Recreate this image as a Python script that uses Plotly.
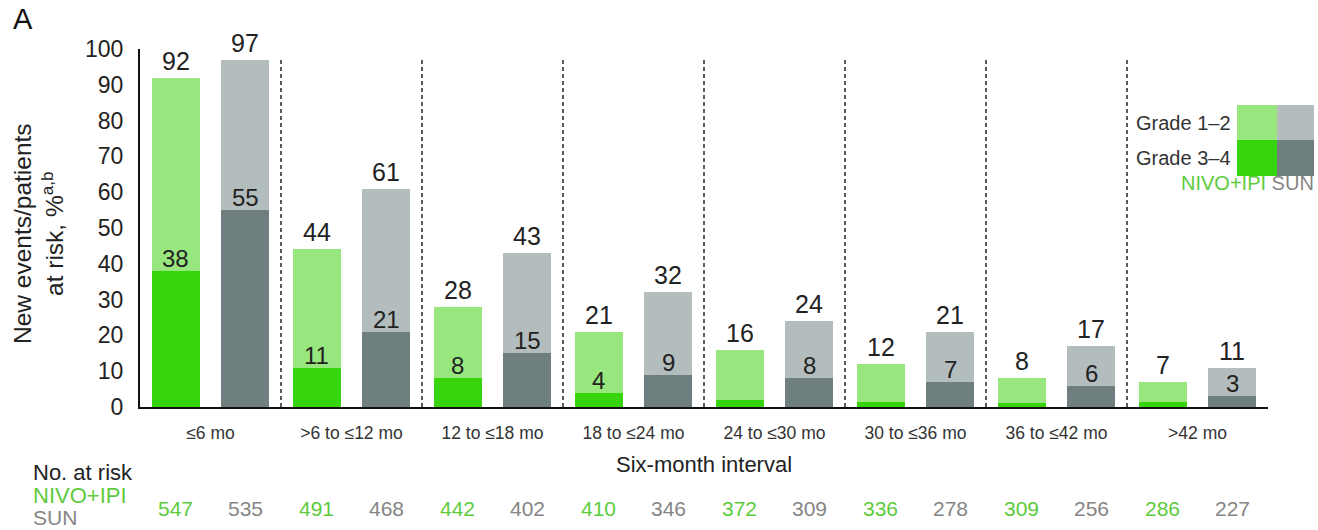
import plotly.graph_objects as go

# Six-month intervals
intervals = ["≤6 mo", ">6 to ≤12 mo", "12 to ≤18 mo", "18 to ≤24 mo",
             "24 to ≤30 mo", "30 to ≤36 mo", "36 to ≤42 mo", ">42 mo"]

# New events / patients at risk, % (any grade and grade 3–4)
nivo_any = [92, 44, 28, 21, 16, 12, 8, 7]
nivo_g34 = [38, 11, 8, 4, 2, 1.5, 1, 1.5]
nivo_g34_labels = ["38", "11", "8", "4", None, None, None, None]
sun_any = [97, 61, 43, 32, 24, 21, 17, 11]
sun_g34 = [55, 21, 15, 9, 8, 7, 6, 3]

# Number of patients at risk
nivo_at_risk = [547, 491, 442, 410, 372, 336, 309, 286]
sun_at_risk = [535, 468, 402, 346, 309, 278, 256, 227]

y_ticks = list(range(0, 101, 10))

GREEN_LIGHT = "#98E67E"
GREEN_DARK = "#36D40C"
GRAY_LIGHT = "#B3BDBD"
GRAY_DARK = "#6F7F7F"
GREEN_TEXT = "#5DCB3D"
GRAY_TEXT = "#858585"
INK = "#222222"
FONT = "Liberation Sans, Arial, sans-serif"

BAR_W = 0.34
GAP = 0.155
OFF_NIVO = -(BAR_W + GAP / 2)
OFF_SUN = GAP / 2

# plot-area geometry in pixels (used to place free text / legend boxes)
W, H = 1318, 530
L, R, T, B = 140, 50, 49, 123
PW, PH = W - L - R, H - T - B


def px(x):
    return (x - L) / PW


def py(y):
    return (H - B - y) / PH


fig = go.Figure()


def add_bar(values, offset, color, with_labels):
    kw = {}
    if with_labels:
        kw = dict(text=[str(v) for v in values], textposition="outside",
                  textangle=0, constraintext="none",
                  outsidetextfont=dict(family=FONT, size=25, color=INK))
    fig.add_trace(go.Bar(
        x=intervals, y=values, width=BAR_W, offset=offset,
        marker=dict(color=color, line=dict(width=0)),
        cliponaxis=False, hoverinfo="skip", showlegend=False, **kw,
    ))


add_bar(nivo_any, OFF_NIVO, GREEN_LIGHT, True)
add_bar(nivo_g34, OFF_NIVO, GREEN_DARK, False)
add_bar(sun_any, OFF_SUN, GRAY_LIGHT, True)
add_bar(sun_g34, OFF_SUN, GRAY_DARK, False)

shapes = []
# dashed separators between intervals
for i in range(len(intervals) - 1):
    shapes.append(dict(type="line", xref="x", yref="y",
                       x0=i + 0.5, x1=i + 0.5, y0=0, y1=97,
                       line=dict(color="#333333", width=1.6, dash="4px,3px")))

# legend swatches
sw = [(1237, 1277, 105, 140, GREEN_LIGHT), (1277, 1314, 105, 140, GRAY_LIGHT),
      (1237, 1277, 140, 176, GREEN_DARK), (1277, 1314, 140, 176, GRAY_DARK)]
for x0, x1, y0, y1, c in sw:
    shapes.append(dict(type="rect", xref="paper", yref="paper",
                       x0=px(x0), x1=px(x1), y0=py(y1), y1=py(y0),
                       fillcolor=c, line=dict(width=0), layer="above"))

ann = []

# grade 3–4 values just above the dark segments
for i, lab in enumerate(nivo_g34_labels):
    if lab:
        ann.append(dict(xref="x", yref="y", x=i + OFF_NIVO + BAR_W / 2,
                        y=nivo_g34[i], text=lab, showarrow=False,
                        xanchor="center", yanchor="bottom", yshift=-3,
                        font=dict(family=FONT, size=24, color=INK)))
for i, v in enumerate(sun_g34):
    ann.append(dict(xref="x", yref="y", x=i + OFF_SUN + BAR_W / 2,
                    y=v, text=str(v), showarrow=False,
                    xanchor="center", yanchor="bottom", yshift=-3,
                    font=dict(family=FONT, size=24, color=INK)))


def text(x, y, s, size, color=INK, xanchor="center", angle=0):
    ann.append(dict(xref="paper", yref="paper", x=px(x), y=py(y), text=s,
                    showarrow=False, xanchor=xanchor, yanchor="middle",
                    textangle=angle, font=dict(family=FONT, size=size, color=color)))


text(11, 19, "A", 29, "#111111", xanchor="left")
text(39, 234, "New events/patients<br>at risk, %<sup>a,b</sup>", 24.5, angle=-90)
text(704, 464, "Six-month interval", 22)
text(1233, 123, "Grade 1–2", 20, "#333333", xanchor="right")
text(1233, 158, "Grade 3–4", 20, "#333333", xanchor="right")
text(1316, 183, f"<span style='color:{GREEN_TEXT}'>NIVO+IPI</span> "
     f"<span style='color:{GRAY_TEXT}'>SUN</span>", 20, xanchor="right")

text(31, 472, "No. at risk", 22, INK, xanchor="left")
text(31, 495, "NIVO+IPI", 22, GREEN_TEXT, xanchor="left")
text(31, 517, "SUN", 21, GRAY_TEXT, xanchor="left")

# numbers at risk under each bar
for i in range(len(intervals)):
    for vals, off, col in ((nivo_at_risk, OFF_NIVO, GREEN_TEXT),
                           (sun_at_risk, OFF_SUN, GRAY_TEXT)):
        ann.append(dict(xref="x", yref="paper", x=i + off + BAR_W / 2, y=py(508),
                        text=str(vals[i]), showarrow=False, xanchor="center",
                        yanchor="middle",
                        font=dict(family=FONT, size=21, color=col)))

fig.update_layout(
    width=W, height=H,
    margin=dict(l=L, r=R, t=T, b=B),
    barmode="overlay",
    bargap=0,
    plot_bgcolor="white", paper_bgcolor="white",
    shapes=shapes, annotations=ann,
    font=dict(family=FONT),
    xaxis=dict(
        type="category", range=[-0.5, len(intervals) - 0.5],
        showline=True, linecolor="#111111", linewidth=2,
        showgrid=False, zeroline=False, ticks="",
        tickfont=dict(family=FONT, size=17.5, color="#333333"),
        ticklabelstandoff=9,
    ),
    yaxis=dict(
        range=[0, 100], tickvals=y_ticks,
        showline=True, linecolor="#111111", linewidth=2,
        showgrid=False, zeroline=False, ticks="",
        tickfont=dict(family=FONT, size=23, color=INK),
        ticklabelstandoff=10,
    ),
)

fig.write_html("out.html")
